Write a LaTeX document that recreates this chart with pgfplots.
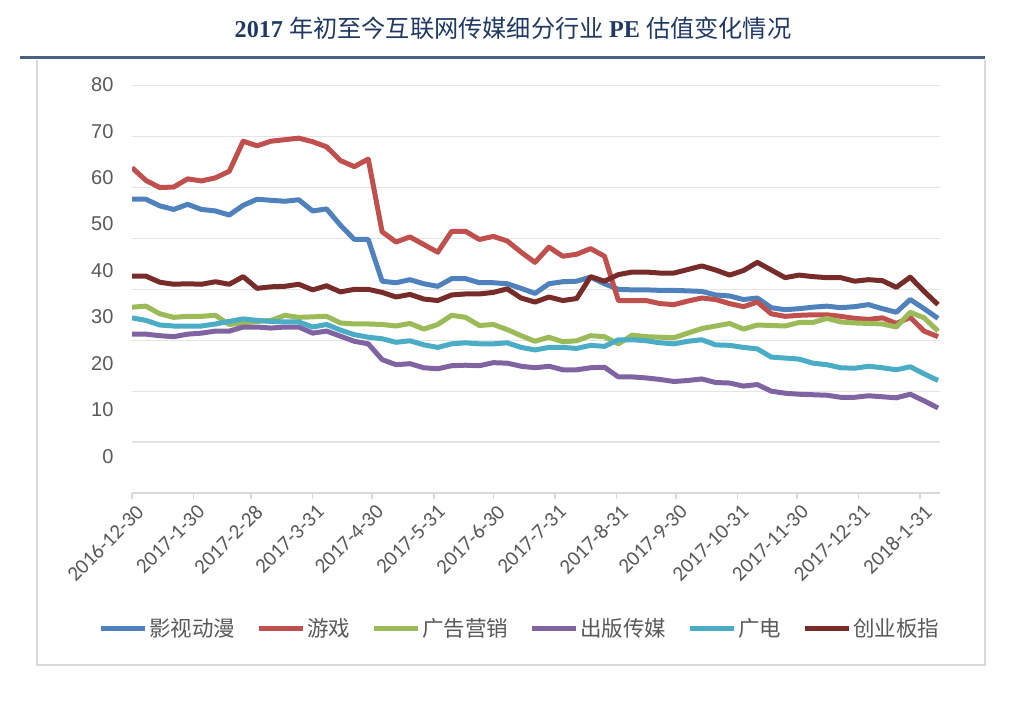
\documentclass[border=0pt]{standalone}
\usepackage{pgfplots}
\usepackage{pgfplotstable}
\pgfplotsset{compat=1.18}
\usepackage{fontspec}
\setmainfont{Liberation Sans}
\newfontfamily\cjk{Noto Sans CJK SC}
\newfontfamily\carlito{Carlito}
\newfontfamily\tnr{Liberation Serif}
\definecolor{blueS}{HTML}{4F81BD}
\definecolor{redS}{HTML}{C0504D}
\definecolor{greenS}{HTML}{9BBB59}
\definecolor{purpleS}{HTML}{8064A2}
\definecolor{cyanS}{HTML}{4BACC6}
\definecolor{darkS}{HTML}{772C2A}
\definecolor{titleC}{HTML}{1F3864}
\definecolor{ruleC}{HTML}{4A6282}
\definecolor{txtC}{HTML}{595959}
\definecolor{gridC}{HTML}{D9D9D9}
\definecolor{gridL}{HTML}{E4E4E4}

\pgfplotstableread{
d  ys    yx    gg    cb    gd    cy
0   57.7 63.9 36.5 31.2 34.4 42.6
7   57.7 61.4 36.7 31.2 33.9 42.6
14  56.4 60.0 35.2 30.9 33.0 41.4
21  55.7 60.1 34.5 30.7 32.8 41.0
28  56.7 61.7 34.7 31.2 32.8 41.1
35  55.7 61.3 34.7 31.4 32.8 41.0
42  55.4 61.9 34.9 31.8 33.2 41.5
49  54.6 63.2 33.1 31.8 33.7 41.0
56  56.5 69.1 33.4 32.6 34.2 42.5
63  57.7 68.2 33.7 32.6 33.9 40.2
70  57.5 69.1 33.9 32.4 33.7 40.5
77  57.3 69.4 34.9 32.6 33.6 40.6
84  57.6 69.7 34.5 32.6 33.6 41.0
91  55.4 69.0 34.6 31.4 32.6 39.9
98  55.8 68.0 34.7 31.8 33.1 40.7
105 52.6 65.3 33.4 30.8 32.0 39.5
112 49.8 64.1 33.2 29.8 31.1 40.0
119 49.8 65.6 33.2 29.3 30.6 40.0
126 41.6 51.3 33.1 26.2 30.3 39.4
133 41.3 49.3 32.8 25.2 29.6 38.5
140 41.9 50.3 33.3 25.4 29.9 39.0
147 41.1 48.8 32.2 24.6 29.1 38.1
154 40.6 47.3 33.1 24.4 28.6 37.8
161 42.1 51.4 34.9 25.0 29.3 38.9
168 42.1 51.4 34.5 25.1 29.5 39.1
175 41.3 49.8 32.9 25.0 29.3 39.1
182 41.3 50.4 33.1 25.6 29.3 39.4
189 41.1 49.5 32.1 25.5 29.5 40.1
196 40.2 47.3 30.9 24.9 28.6 38.3
203 39.2 45.3 29.8 24.6 28.1 37.5
210 41.1 48.3 30.6 24.9 28.6 38.5
217 41.5 46.5 29.7 24.2 28.6 37.8
224 41.6 46.9 29.9 24.2 28.4 38.2
231 42.4 48.0 30.9 24.6 29.0 42.5
238 41.1 46.5 30.7 24.7 28.8 41.6
245 40.0 37.8 29.3 22.8 30.1 42.9
252 39.9 37.8 31.0 22.8 30.1 43.4
259 39.9 37.8 30.7 22.6 29.9 43.4
266 39.8 37.2 30.6 22.3 29.5 43.2
273 39.8 37.0 30.5 21.9 29.3 43.2
280 39.7 37.7 31.4 22.1 29.8 43.9
287 39.6 38.3 32.3 22.4 30.1 44.6
294 38.9 38.0 32.8 21.7 29.1 43.8
301 38.7 37.2 33.3 21.6 29.0 42.8
308 38.0 36.6 32.2 21.0 28.6 43.7
315 38.3 37.5 33.0 21.3 28.3 45.3
322 36.4 35.2 32.9 20.0 26.7 43.8
329 36.0 34.7 32.8 19.6 26.5 42.3
336 36.2 34.9 33.5 19.4 26.3 42.8
343 36.5 35.0 33.5 19.3 25.5 42.5
350 36.7 35.0 34.3 19.2 25.2 42.3
357 36.4 34.7 33.6 18.8 24.6 42.3
364 36.6 34.3 33.4 18.8 24.5 41.6
371 37.0 34.1 33.3 19.1 24.9 41.9
378 36.2 34.4 33.2 18.9 24.6 41.7
385 35.5 33.3 32.6 18.7 24.2 40.4
392 38.0 34.5 35.5 19.4 24.8 42.4
399 36.2 31.8 34.4 18.1 23.4 39.6
406 34.3 30.7 31.8 16.7 22.1 37.0
}\datatable

\begin{document}
\begin{tikzpicture}[x=1pt,y=1pt]
\path[use as bounding box] (0,0) rectangle (1021,706);
% title
\node[text=titleC, anchor=center] at (513,678)
  {\fontsize{24.2}{28}\selectfont\tnr\bfseries 2017 \cjk\mdseries 年初至今互联网传媒细分行业 \tnr\bfseries PE \cjk\mdseries 估值变化情况};
\draw[ruleC, line width=3pt] (20,648) -- (985,648);
\draw[gridC, line width=1.3pt] (37,646) -- (37,41) -- (985,41) -- (985,646);

\begin{axis}[
  at={(132pt,213pt)}, anchor=south west,
  scale only axis, width=808pt, height=408.8pt,
  xmin=0, xmax=407, ymin=0, ymax=80.3,
  axis x line*=bottom, axis y line*=left,
  y axis line style={draw=none},
  x axis line style={draw=gridC, line width=1.5pt},
  tick align=outside,
  xtick={0,31,60,91,121,152,182,213,244,274,305,335,366,397},
  xticklabels={2016-12-30,2017-1-30,2017-2-28,2017-3-31,2017-4-30,2017-5-31,2017-6-30,2017-7-31,2017-8-31,2017-9-30,2017-10-31,2017-11-30,2017-12-31,2018-1-31},
  xtick style={draw=gridC, line width=1.5pt},
  major tick length=6pt,
  xticklabel style={rotate=45, anchor=north east, font=\carlito\fontsize{21}{24}\selectfont, text=txtC, inner sep=1pt, yshift=-4pt},
  ytick={10,20,...,80},
  yticklabels={},
  ytick style={draw=none},
  ymajorgrids, grid style={draw=gridL, line width=1.2pt},
  extra y ticks={7.2,16.325,25.45,34.575,43.7,52.825,61.95,71.075,80.2},
  extra y tick labels={0,10,20,30,40,50,60,70,80},
  extra y tick style={grid=none, major tick length=0pt, ytick style={draw=none}},
  yticklabel style={font=\fontsize{20}{24}\selectfont, text=txtC, xshift=-15pt},
  every axis plot/.append style={line width=5pt, line join=round, no markers},
  legend columns=6,
  legend style={at={(0.480,-0.331)}, anchor=center, draw=none, fill=none,
    font=\cjk\fontsize{21.5}{26}\selectfont, text=txtC,
    nodes={inner sep=1.5pt},
    /tikz/every even column/.append style={column sep=20pt}},
  legend image code/.code={\draw[#1, line width=5pt] (0pt,0pt) -- (44pt,0pt);},
]
\addplot[blueS] table[x=d,y=ys]{\datatable};
\addlegendentry{影视动漫}
\addplot[redS] table[x=d,y=yx]{\datatable};
\addlegendentry{游戏}
\addplot[greenS] table[x=d,y=gg]{\datatable};
\addlegendentry{广告营销}
\addplot[purpleS] table[x=d,y=cb]{\datatable};
\addlegendentry{出版传媒}
\addplot[cyanS] table[x=d,y=gd]{\datatable};
\addlegendentry{广电}
\addplot[darkS] table[x=d,y=cy]{\datatable};
\addlegendentry{创业板指}
\end{axis}
\end{tikzpicture}
\end{document}
